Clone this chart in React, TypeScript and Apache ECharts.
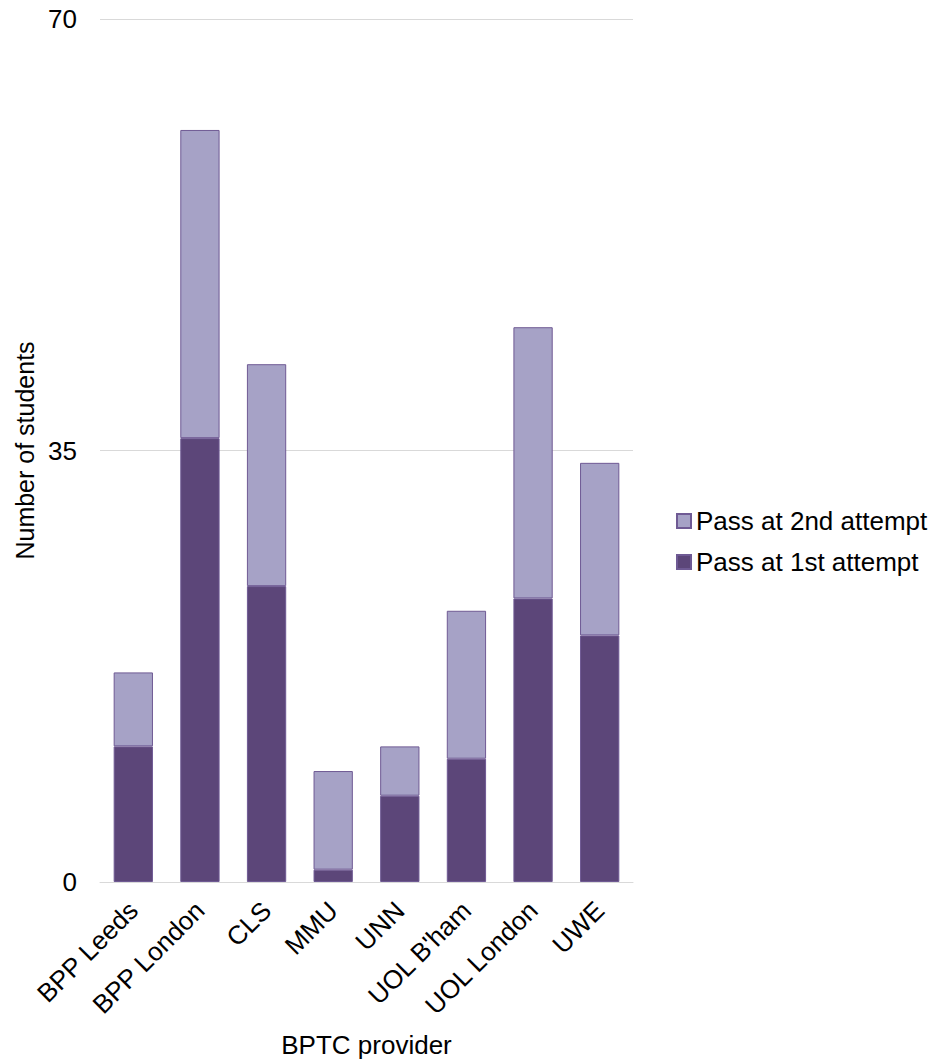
import React, { useEffect, useRef } from "react";
import * as echarts from "echarts";

const categories = ["BPP Leeds", "BPP London", "CLS", "MMU", "UNN", "UOL B'ham", "UOL London", "UWE"];
const firstAttempt = [11, 36, 24, 1, 7, 10, 23, 20];
const secondAttempt = [6, 25, 18, 8, 4, 12, 22, 14];
const yTicks = [0, 35, 70];

const FONT = "'Liberation Sans', Arial, sans-serif";

export default function App() {
  const ref = useRef<HTMLDivElement>(null);
  useEffect(() => {
    if (!ref.current) return;
    const chart = echarts.init(ref.current, null, { renderer: "svg" });
    chart.setOption({
      animation: false,
      textStyle: { fontFamily: FONT },
      grid: { left: 100, right: 306, top: 19, bottom: 181, containLabel: false },
      legend: {
        orient: "vertical",
        left: 671,
        top: 503,
        itemWidth: 14,
        itemHeight: 14,
        itemGap: 15,
        icon: "rect",
        textStyle: { fontSize: 26, color: "#000", fontFamily: FONT },
        data: ["Pass at 2nd attempt", "Pass at 1st attempt"],
      },
      xAxis: {
        type: "category",
        data: categories,
        name: "BPTC provider",
        nameLocation: "middle",
        nameGap: 150,
        nameTextStyle: { fontSize: 26, color: "#000", fontFamily: FONT },
        axisLine: { lineStyle: { color: "#d9d9d9", width: 1 } },
        axisTick: { show: false },
        axisLabel: { rotate: 45, fontSize: 26, color: "#000", margin: 24, interval: 0, fontFamily: FONT },
      },
      yAxis: {
        type: "value",
        min: 0,
        max: 70,
        interval: 35,
        name: "Number of students",
        nameLocation: "middle",
        nameGap: 63,
        nameTextStyle: { fontSize: 25, color: "#000", fontFamily: FONT },
        axisLine: { show: false },
        axisTick: { show: false },
        splitLine: { lineStyle: { color: "#d9d9d9", width: 1 } },
        axisLabel: {
          fontSize: 26,
          color: "#000",
          margin: 23,
          fontFamily: FONT,
          formatter: (v: number) => (yTicks.includes(v) ? String(v) : ""),
        },
      },
      series: [
        {
          name: "Pass at 1st attempt",
          type: "bar",
          stack: "total",
          data: firstAttempt,
          barWidth: "59%",
          itemStyle: { color: "#5c4679", borderColor: "#6f5a94", borderWidth: 1 },
        },
        {
          name: "Pass at 2nd attempt",
          type: "bar",
          stack: "total",
          data: secondAttempt,
          barWidth: "59%",
          itemStyle: { color: "#a6a2c6", borderColor: "#6f5a94", borderWidth: 1 },
        },
      ],
    });
    return () => chart.dispose();
  }, []);
  return (
    <div
      ref={ref}
      style={{ position: "fixed", left: 0, top: 0, width: 939, height: 1063, background: "#fff" }}
    />
  );
}
